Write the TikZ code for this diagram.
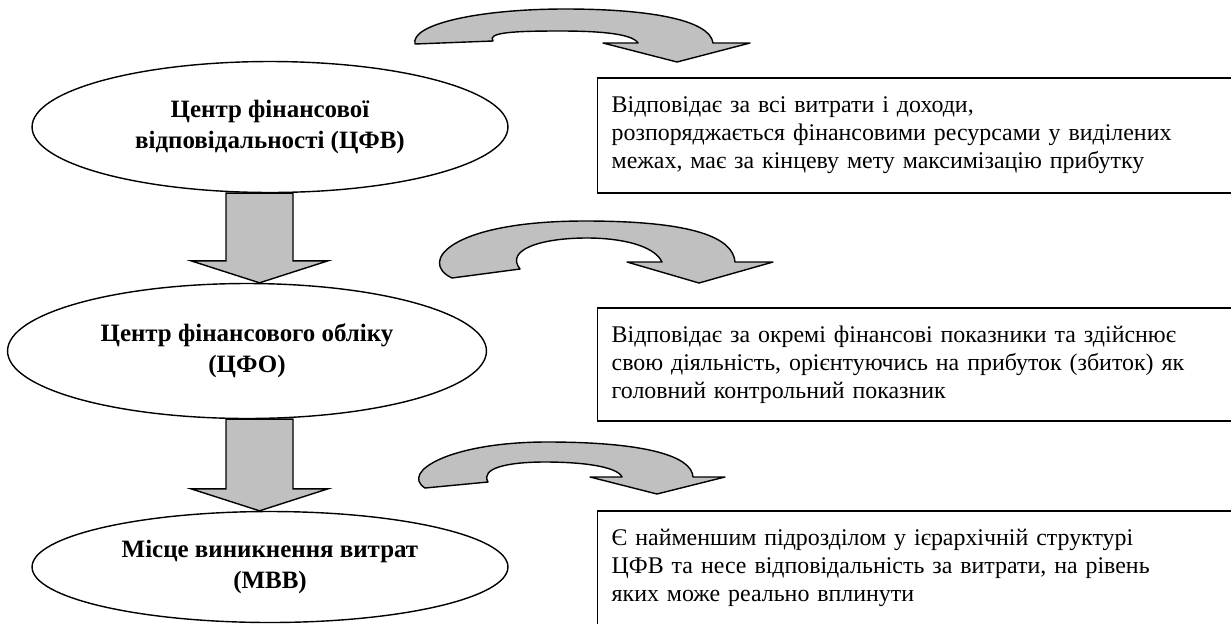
\documentclass[tikz,border=0pt]{standalone}
\usepackage{fontspec}
\setmainfont{Liberation Serif}
\usetikzlibrary{shapes.geometric, calc, positioning}
\usepackage{xcolor}
\definecolor{arrowgray}{RGB}{192,192,192}

\begin{document}
\begin{tikzpicture}[
    x=0.02cm, y=-0.02cm,
    centre/.style={
        draw,
        ellipse,
        line width=0.8pt,
        fill=white,
        align=center,
        inner sep=0pt,
        font=\fontsize{14.2}{17.5}\selectfont\bfseries
    },
    duty/.style={
        draw,
        rectangle,
        line width=0.8pt,
        anchor=west,
        align=left,
        inner xsep=0.28cm,
        text width=12.4cm,
        font=\fontsize{13.6}{16}\selectfont
    },
    blockarrow/.style={draw, fill=arrowgray, line width=0.8pt, line join=miter},
    bentarrow/.style={draw, fill=arrowgray, line width=0.8pt, line join=round}
]
\clip (0,0) rectangle (1231,623);

% responsibility levels
\node (cfv) [centre, minimum width=9.52cm, minimum height=2.62cm] at (270,127)
    {Центр фінансової\\відповідальності (ЦФВ)};
\node (cfo) [centre, minimum width=9.58cm, minimum height=2.7cm] at (247,351)
    {Центр фінансового обліку\\(ЦФО)};
\node (mvv) [centre, minimum width=9.52cm, minimum height=2.22cm] at (270,567)
    {Місце виникнення витрат\\(МВВ)};

% descriptions
\node (cfvtext) [duty, minimum height=2.3cm] at (597,135.5)
    {Відповідає за всі витрати і доходи,\\
     розпоряджається фінансовими ресурсами у виділених\\
     межах, має за кінцеву мету максимізацію прибутку};
\node (cfotext) [duty, minimum height=2.26cm] at (597,364.5)
    {Відповідає за окремі фінансові показники та здійснює\\
     свою діяльність, орієнтуючись на прибуток (збиток) як\\
     головний контрольний показник};
\node (mvvtext) [duty, minimum height=2.28cm] at (597,568)
    {Є найменшим підрозділом у ієрархічній структурі\\
     ЦФВ та несе відповідальність за витрати, на рівень\\
     яких може реально вплинути};

% block arrows between the levels
\coordinate (col) at (259.5,0);
\foreach \a/\b in {cfv/cfo, cfo/mvv}
    \draw[blockarrow] ($(col |- \a.south)+(-33.5,0)$)
        -- ($(col |- \b.north)+(-33.5,-22)$) -- ($(col |- \b.north)+(-68.5,-22)$)
        -- (col |- \b.north)
        -- ($(col |- \b.north)+(68.5,-22)$) -- ($(col |- \b.north)+(33.5,-22)$)
        -- ($(col |- \a.south)+(33.5,0)$) -- cycle;

% curved arrows towards the descriptions
\draw[bentarrow] (415,44) .. controls (410,24) and (480,9) .. (565,9)
    .. controls (650,9) and (710,20) .. (713,43)
    -- (750,43) -- (677,62) -- (603,43) -- (638,43)
    .. controls (632,33) and (595,31) .. (560,31)
    .. controls (518,31) and (486,32) .. (493,41) -- cycle;
\draw[bentarrow] (452,278) .. controls (418,262) and (450,221) .. (585,221)
    .. controls (695,221) and (733,238) .. (735,262)
    -- (773,262) -- (699,283) -- (627,262) -- (662,262)
    .. controls (654,245) and (620,238) .. (587,238)
    .. controls (540,238) and (505,250) .. (520,269) -- cycle;
\draw[bentarrow] (425,488) .. controls (400,472) and (450,442) .. (547,442)
    .. controls (645,442) and (692,456) .. (693,477)
    -- (725,477) -- (657,494) -- (590,477) -- (622,477)
    .. controls (617,466) and (580,462) .. (545,462)
    .. controls (508,462) and (480,468) .. (488,482) -- cycle;

\end{tikzpicture}
\end{document}
